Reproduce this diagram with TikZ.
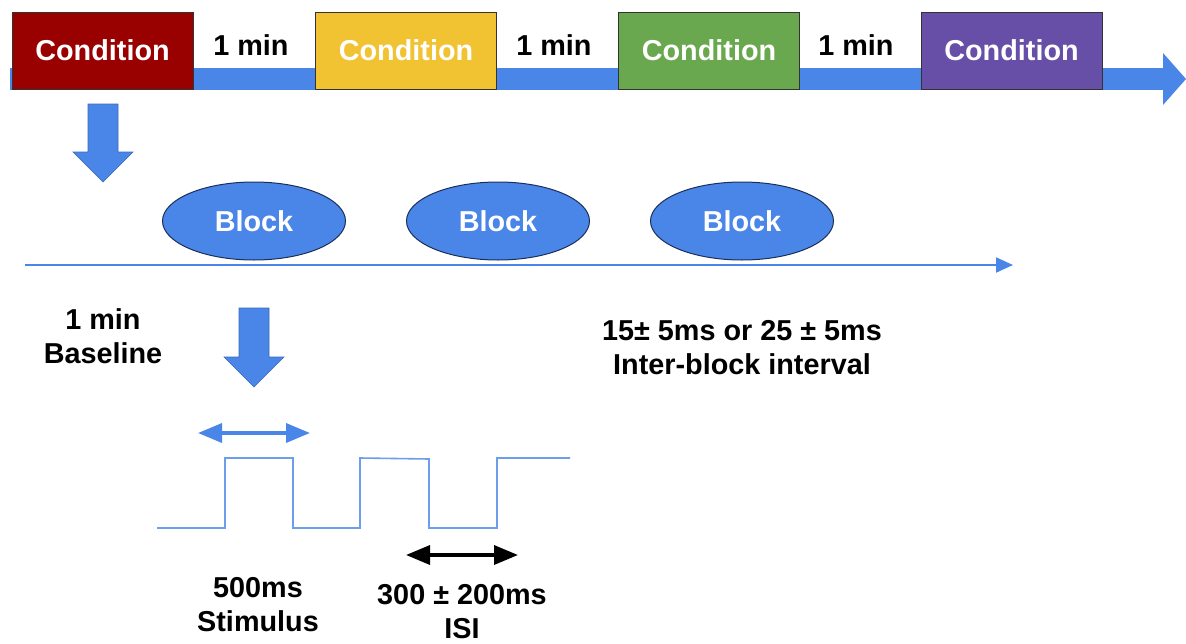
\documentclass[tikz,border=0pt]{standalone}
\usepackage{fontspec}
\setmainfont{Liberation Sans}
\usetikzlibrary{arrows.meta,shapes.geometric}
\definecolor{blueA}{HTML}{4A86E8}
\definecolor{blueW}{HTML}{6D9EEB}
\definecolor{cRed}{HTML}{990000}
\definecolor{cYel}{HTML}{F1C232}
\definecolor{cGrn}{HTML}{6AA84F}
\definecolor{cPur}{HTML}{674EA7}
\definecolor{navy}{HTML}{1C2F5A}
\tikzset{
  big/.style={font=\fontsize{28.8}{34}\selectfont\bfseries},
  cond/.style={big, text=white, draw=black!80, line width=1pt, minimum width=181pt, minimum height=77pt, inner sep=0pt},
  blk/.style={big, text=white, ellipse, fill=blueA, draw=navy, line width=1pt, minimum width=183pt, minimum height=78pt, inner sep=0pt},
  lbl/.style={big, text=black, align=center, inner sep=0pt},
  fatarrow/.style={fill=blueA, draw=blueA!80!black, line width=0.6pt},
  wave/.style={draw=blueW, line width=1.6pt},
}
\begin{document}
\begin{tikzpicture}[x=1pt,y=-1pt]
\useasboundingbox[fill=white] (0,0) rectangle (1186,643);
% top band with arrow head
\fill[blueA] (10,68) rectangle (1163,90);
\fill[blueA] (1163,53) -- (1186,79) -- (1163,105) -- cycle;
% conditions
\node[cond, fill=cRed] (c1) at (102.5,50.5) {Condition};
\node[cond, fill=cYel] (c2) at (406,50.5) {Condition};
\node[cond, fill=cGrn] (c3) at (709,50.5) {Condition};
\node[cond, fill=cPur] (c4) at (1011.5,50.5) {Condition};
\node[lbl] (m1) at (251,45) {1 min};
\node[lbl] (m2) at (554,45) {1 min};
\node[lbl] (m3) at (856,45) {1 min};
% down arrows
\fill[fatarrow] (88,104) -- (118,104) -- (118,152) -- (133,152) -- (103,182) -- (73,152) -- (88,152) -- cycle;
\fill[fatarrow] (239,308) -- (269,308) -- (269,357) -- (284,357) -- (254,387) -- (224,357) -- (239,357) -- cycle;
% blocks
\node[blk] (b1) at (254,221) {Block};
\node[blk] (b2) at (498,221) {Block};
\node[blk] (b3) at (742,221) {Block};
% block timeline
\coordinate (tl0) at (25,265);
\coordinate (tl1) at (1013,265);
\draw[blueA, line width=2pt, -{Triangle[length=17pt,width=15pt]}] (tl0) -- (tl1);
% labels
\node[lbl] (base) at (103,336) {1 min\\Baseline};
\node[lbl] (ibi) at (742,348) {15± 5ms or 25 ± 5ms\\Inter-block interval};
% stimulus arrow
\coordinate (s0) at (198,433);
\coordinate (s1) at (310,433);
\draw[blueA, line width=3.5pt, {Triangle[length=24pt,width=19pt]}-{Triangle[length=24pt,width=19pt]}] (s0) -- (s1);
% waveform
\draw[wave] (157,528) -- (225,528) -- (225,458) -- (293,458) -- (293,528) -- (360,528) -- (360,458) -- (429,459) -- (429,528) -- (497,528) -- (497,458) -- (570,458);
% ISI arrow
\coordinate (i0) at (406,555);
\coordinate (i1) at (518,555);
\draw[black, line width=3.5pt, {Triangle[length=24pt,width=19pt]}-{Triangle[length=24pt,width=19pt]}] (i0) -- (i1);
\node[lbl] (stim) at (258,605) {500ms\\Stimulus};
\node[lbl] (isi) at (462,612) {300 ± 200ms\\ISI};
\end{tikzpicture}
\end{document}
